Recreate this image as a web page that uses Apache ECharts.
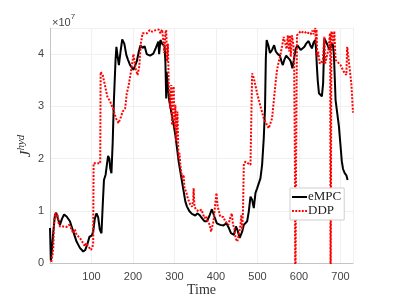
<!DOCTYPE html>
<html>
<head>
<meta charset="utf-8">
<script src="https://cdn.jsdelivr.net/npm/echarts@6/dist/echarts.min.js"></script>
<style>html,body{margin:0;padding:0;background:#fff;}#c{width:399px;height:299px;}</style>
</head>
<body>
<div id="c"></div>
<script>
// Values in units of 1e7
var empcX = [0,2,5,8,12,15,19,24,29,34,40,48,56,64,72,80,85,90,95,101,104,108,112,116,120,124,127,130,134,137,140,143,145,148,151,154,158,160,163,166,170,174,179,184,188,193,197,201,205,209,214,218,223,228,233,241,249,255,261,263,266,271,276,278,280,281,283,287,292,298,302,306,310,314,318,322,326,330,336,342,350,355,360,366,372,378,384,390,396,402,410,418,425,431,436,443,448,452,457,463,467,471,475,479,483,487,491,495,499,503,507,511,515,518,520,522,526,530,535,540,544,549,554,558,561,565,569,573,577,580,584,588,592,596,600,604,608,613,617,623,627,631,635,639,641,643,645,648,651,655,658,661,665,669,673,677,681,684,688,692,696,700,703,706,710,714,717];
var empcY = [0.67,0.05,0.3,0.6,0.92,0.96,0.85,0.73,0.85,0.93,0.89,0.8,0.6,0.41,0.29,0.22,0.25,0.36,0.5,0.53,0.6,0.85,0.95,0.88,0.64,0.57,1.1,1.59,1.69,1.88,2.05,2.0,1.82,1.72,2.3,3.12,3.9,4.14,3.95,3.79,4.05,4.28,4.2,3.98,3.89,3.79,3.76,3.7,3.73,3.86,4.05,4.17,4.12,4.15,4.0,3.97,4.01,4.12,4.24,4.0,4.27,4.19,4.16,3.85,3.15,3.66,3.47,3.12,2.9,2.64,2.45,2.2,1.94,1.75,1.56,1.37,1.18,1.08,0.99,0.94,0.91,0.95,0.92,0.86,0.8,0.8,0.9,1.03,0.89,0.76,0.73,0.72,0.76,0.67,0.57,0.54,0.7,0.62,0.48,0.6,0.73,0.76,0.8,0.99,1.27,1.21,1.05,1.34,1.43,1.4,1.62,1.88,2.39,2.96,3.92,4.27,4.17,4.02,4.08,4.17,4.05,4.0,3.97,3.85,3.79,3.9,3.97,3.98,3.9,3.86,3.73,3.76,4.1,4.17,4.15,4.08,4.05,4.14,4.2,4.25,4.17,4.11,4.22,4.27,4.1,3.76,3.5,3.25,3.22,3.19,3.44,4.3,4.27,4.17,4.08,4.14,4.2,4.0,3.12,2.87,2.62,2.24,1.95,1.8,1.72,1.68,1.59];

var ddpX = [3,6,8,10,13,16,18,21,24,28,32,36,40,46,50,56,60,64,68,72,76,80,84,87,90,95,99,102,104,105,109,114,121,122,127,133,138,145,153,159,165,171,175,181,185,189,193,197,201,204,207,211,215,219,223,227,234,240,246,251,256,262,266,270,273,274,275,278,280,282,284,286,288,290,292,294,296,298,300,302,304,307,309,310,312,314,316,319,322,324,328,332,338,342,345,346,348,352,358,365,369,372,376,380,385,388,391,394,398,401,404,407,410,414,418,422,426,430,434,438,441,444,447,451,455,459,461,463,465,467,471,475,483,487,491,499,507,515,523,527,531,535,539,543,547,551,555,559,563,567,570,573,576,578,580,583,586,588,590,591,593,595,600,604,608,613,618,623,628,632,635,639,641,642,644,646,650,654,657,659,661,663,667,671,674,675,676,677,678,681,683,685,688,692,700,708,714,716,720,726,730];
var ddpY = [0.02,0.15,0.3,0.83,0.96,0.89,0.93,0.76,0.7,0.73,0.7,0.73,0.69,0.73,0.68,0.57,0.64,0.54,0.52,0.48,0.45,0.38,0.32,0.38,0.36,0.29,0.25,0.27,0.35,1.91,1.94,1.91,1.91,3.66,3.6,3.38,3.19,3.09,2.93,2.77,2.68,2.8,2.9,2.96,3.25,3.38,3.57,3.75,4.0,3.85,3.7,3.6,3.76,4.21,4.4,4.43,4.4,4.46,4.43,4.45,4.46,4.47,4.4,4.47,4.45,4.21,4.02,4.4,4.46,3.86,4.2,3.44,3.47,2.96,3.41,2.64,3.3,3.38,2.58,3.03,2.33,2.9,2.2,2.0,2.1,1.88,1.75,1.62,1.69,1.43,1.37,1.24,1.12,1.08,1.2,1.43,1.08,1.02,0.99,1.02,0.99,0.86,0.9,0.8,0.73,0.6,0.57,0.8,1.12,1.34,1.08,0.99,0.89,0.86,0.88,0.8,0.83,0.73,0.86,0.95,0.73,0.67,0.48,0.41,0.54,0.73,0.92,0.64,0.99,1.9,1.94,1.91,1.88,3.63,3.54,3.25,3.0,2.77,2.64,2.58,2.58,2.77,3.09,3.41,3.7,3.85,3.98,4.15,4.33,4.36,4.1,4.36,4.05,4.36,3.95,4.36,4.2,4.0,2.0,-1,2.0,4.36,4.4,4.44,4.41,4.4,4.43,4.4,4.38,4.45,4.38,4.5,4.2,4.47,3.95,4.05,3.82,3.86,3.82,4.1,4.33,3.82,3.79,4.1,4.36,4.4,-1,-1,4.44,4.35,4.2,4.44,3.89,3.86,3.79,3.66,3.6,4.14,3.86,3.44,2.88];

var xTicks = [100,200,300,400,500,600,700];
var yTicks = [0,1,2,3,4];
var seriesNames = ['eMPC','DDP'];

function pairs(xs, ys){ return xs.map(function(x,i){ return [x, ys[i]]; }); }

var chart = echarts.init(document.getElementById('c'), null, {renderer:'canvas'});
var labelFont = {fontFamily:'Liberation Sans, Arial, sans-serif', fontSize:11, color:'#444'};
var dotIcon = 'path://M0,0h2v2h-2z M3.5,0h2v2h-2z M7,0h2v2h-2z M10.5,0h2v2h-2z M14,0h2v2h-2z';
chart.setOption({
  animation:false,
  backgroundColor:'#fff',
  grid:{left:50, right:46, top:28, bottom:36, containLabel:false, outerBoundsMode:'none'},
  xAxis:{
    type:'value', min:0, max:730, interval:100,
    name:'Time', nameLocation:'middle', nameGap:20, nameMoveOverlap:false,
    nameTextStyle:{fontFamily:'Liberation Serif, Times New Roman, serif', fontSize:14, color:'#333'},
    axisLine:{show:true, lineStyle:{color:'#c4c4c4', width:1}},
    axisTick:{show:false},
    axisLabel:Object.assign({margin:8, showMinLabel:false, showMaxLabel:false,
      formatter:function(v){ return xTicks.indexOf(v)>=0 ? String(v) : ''; }}, labelFont),
    splitLine:{show:true, lineStyle:{color:'#f0f0f0', width:1}}
  },
  yAxis:{
    type:'value', min:0, max:4.5, interval:1,
    axisLine:{show:true, lineStyle:{color:'#c4c4c4', width:1}},
    axisTick:{show:false},
    axisLabel:Object.assign({margin:6, showMaxLabel:false,
      formatter:function(v){ return yTicks.indexOf(v)>=0 ? String(v) : ''; }}, labelFont),
    splitLine:{show:true, lineStyle:{color:'#f0f0f0', width:1}}
  },
  legend:{
    orient:'vertical', left:290, top:188,
    backgroundColor:'#fff', borderColor:'#cfcfcf', borderWidth:1, borderRadius:0,
    padding:[2,3,2,2], itemGap:0, itemWidth:15, itemHeight:2,
    textStyle:{fontFamily:'Liberation Serif, Times New Roman, serif', fontSize:13, color:'#222', padding:[0,0,0,-4], lineHeight:14},
    data:[{name:seriesNames[0], icon:'rect'}, {name:seriesNames[1], icon:dotIcon}]
  },
  graphic:[{
    type:'text', left:52, top:13,
    style:{text:'{a|×10}{b|7}', rich:{
      a:{fontFamily:'Liberation Sans, Arial, sans-serif', fontSize:11, fill:'#444', verticalAlign:'bottom'},
      b:{fontFamily:'Liberation Sans, Arial, sans-serif', fontSize:8, fill:'#444', verticalAlign:'top', padding:[0,0,7,0]}
    }}
  },{
    type:'text', x:25, y:146, rotation:Math.PI/2,
    style:{text:'{j|J}{s|hyd}', align:'center', verticalAlign:'middle', rich:{
      j:{fontFamily:'Liberation Serif, serif', fontStyle:'italic', fontSize:15, fill:'#333', verticalAlign:'bottom'},
      s:{fontFamily:'Liberation Serif, serif', fontStyle:'italic', fontSize:11, fill:'#333', verticalAlign:'top', padding:[0,0,7,0]}
    }}
  }],
  series:[
    {name:seriesNames[0], type:'line', data:pairs(empcX, empcY), symbol:'none', clip:true,
      lineStyle:{color:'#000', width:2}, itemStyle:{color:'#000'}},
    {name:seriesNames[1], type:'line', data:pairs(ddpX, ddpY), symbol:'none', clip:true,
      lineStyle:{color:'#ff0000', width:2, type:[2,1.5]}, itemStyle:{color:'#ff0000'}}
  ]
});
</script>
</body>
</html>
